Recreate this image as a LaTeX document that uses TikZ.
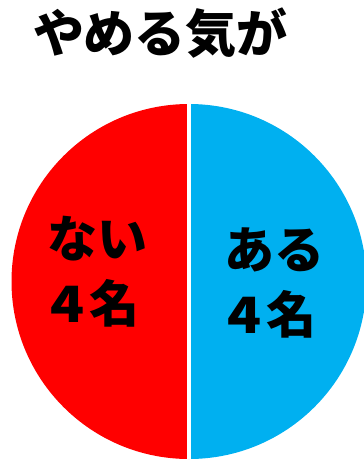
\documentclass[tikz,border=0pt]{standalone}
\usepackage{fontspec}
\newfontfamily\cjk{Noto Sans CJK JP}
\definecolor{pieRed}{RGB}{255, 0, 0}
\definecolor{pieBlue}{RGB}{0, 176, 240}
\usetikzlibrary{calc}
\newcommand{\countfour}{\hspace*{3pt}\scalebox{1.12}[1]{4}\hspace{5pt}名}

\begin{document}
\begin{tikzpicture}[x=1pt, y=1pt,
  slicelabel/.style={font=\cjk\bfseries\fontsize{50}{65}\selectfont, align=left, inner sep=0pt}]
  \useasboundingbox (0,0) rectangle (364,-461);
  \coordinate (center) at (189,-281.5);
  \coordinate (top) at ($(center)+(0,177.5)$);
  \coordinate (bottom) at ($(center)+(0,-177.5)$);
  % the two halves
  \fill[pieRed] (top) arc[start angle=90, end angle=270, radius=177.5pt] -- cycle;
  \fill[pieBlue] (top) arc[start angle=90, end angle=-90, radius=177.5pt] -- cycle;
  \draw[white, line width=4pt] (top) -- (bottom);
  \node[font=\cjk\bfseries\fontsize{51}{51}\selectfont, inner sep=0pt] (title) at (160.5,-33.5) {やめる気が};
  \node[slicelabel] (none) at (97.5,-271.5) {ない\\\countfour};
  \node[slicelabel] (some) at (274,-283) {ある\\\countfour};
\end{tikzpicture}
\end{document}
